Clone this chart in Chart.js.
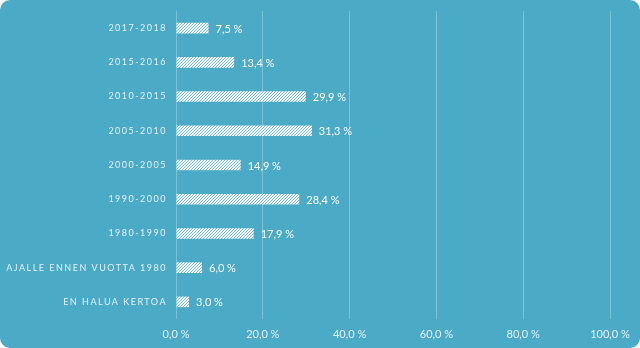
<!DOCTYPE html>
<html>
<head>
<meta charset="utf-8">
<script src="https://cdn.jsdelivr.net/npm/chart.js@4"></script>
<style>
  html, body { margin: 0; padding: 0; background: #ffffff; }
  #wrap { width: 640px; height: 348px; background: #4BAAC5; border-radius: 10px; overflow: hidden; position: relative; }
  canvas { display: block; }
</style>
</head>
<body>
<div id="wrap"><canvas id="c" width="640" height="348"></canvas></div>
<script>
const categories = ["2017-2018", "2015-2016", "2010-2015", "2005-2010", "2000-2005", "1990-2000", "1980-1990", "AJALLE ENNEN VUOTTA 1980", "EN HALUA KERTOA"];
const values = [7.5, 13.4, 29.9, 31.3, 14.9, 28.4, 17.9, 6.0, 3.0];
const xTicks = [0, 20, 40, 60, 80, 100];

const fmt = v => v.toFixed(1).replace('.', ',') + ' %';

function makePattern() {
  const n = 3;
  const p = document.createElement('canvas');
  p.width = n; p.height = n;
  const g = p.getContext('2d');
  for (let y = 0; y < n; y++) {
    for (let x = 0; x < n; x++) {
      g.fillStyle = ((x + y) % n === 0) ? '#7CC2D6' : '#F2F8FA';
      g.fillRect(x, y, 1, 1);
    }
  }
  return g.createPattern(p, 'repeat');
}

const labelColor = 'rgba(235,246,250,0.95)';
const gridColor = 'rgba(255,255,255,0.28)';

const valueLabels = {
  id: 'valueLabels',
  afterDatasetsDraw(chart) {
    const ctx = chart.ctx;
    const meta = chart.getDatasetMeta(0);
    ctx.save();
    ctx.font = '11px Lato, "Open Sans", sans-serif';
    ctx.fillStyle = 'rgba(255,255,255,0.97)';
    ctx.textAlign = 'left';
    ctx.textBaseline = 'middle';
    meta.data.forEach((bar, i) => {
      ctx.fillText(fmt(values[i]), bar.x + 7, bar.y + 1);
    });
    ctx.restore();
  }
};

const spacedY = {
  id: 'spacedY',
  beforeDraw(chart) {
    const s = chart.scales.y;
    if (!s._spaced) {
      const orig = s.drawLabels;
      s.drawLabels = function (area) {
        const ctx = this.ctx;
        ctx.save();
        ctx.letterSpacing = '1.5px';
        orig.call(this, area);
        ctx.restore();
      };
      s._spaced = true;
    }
  }
};

new Chart(document.getElementById('c'), {
  type: 'bar',
  data: {
    labels: categories,
    datasets: [{
      data: values,
      backgroundColor: makePattern(),
      borderWidth: 0,
      barPercentage: 0.62,
      categoryPercentage: 0.5
    }]
  },
  options: {
    indexAxis: 'y',
    responsive: false,
    animation: false,
    devicePixelRatio: 1,
    layout: { padding: { top: 11, right: 30, bottom: 0, left: 0 } },
    plugins: { legend: { display: false }, tooltip: { enabled: false } },
    scales: {
      x: {
        min: 0, max: 100,
        afterBuildTicks: s => { s.ticks = xTicks.map(v => ({ value: v })); },
        afterFit: s => { s.height = 29; },
        grid: { color: gridColor, lineWidth: 1, drawTicks: false },
        border: { display: false },
        ticks: {
          color: labelColor,
          font: { family: 'Lato, "Open Sans", sans-serif', size: 11 },
          padding: 9,
          maxRotation: 0,
          callback: v => fmt(v)
        }
      },
      y: {
        afterFit: s => { s.width = 176; s.paddingTop = 0; s.paddingBottom = 0; },
        grid: { display: false, drawTicks: false },
        border: { display: false },
        ticks: {
          color: labelColor,
          font: { family: 'Lato, "Open Sans", sans-serif', size: 9 },
          padding: 9
        }
      }
    }
  },
  plugins: [valueLabels, spacedY]
});
</script>
</body>
</html>
